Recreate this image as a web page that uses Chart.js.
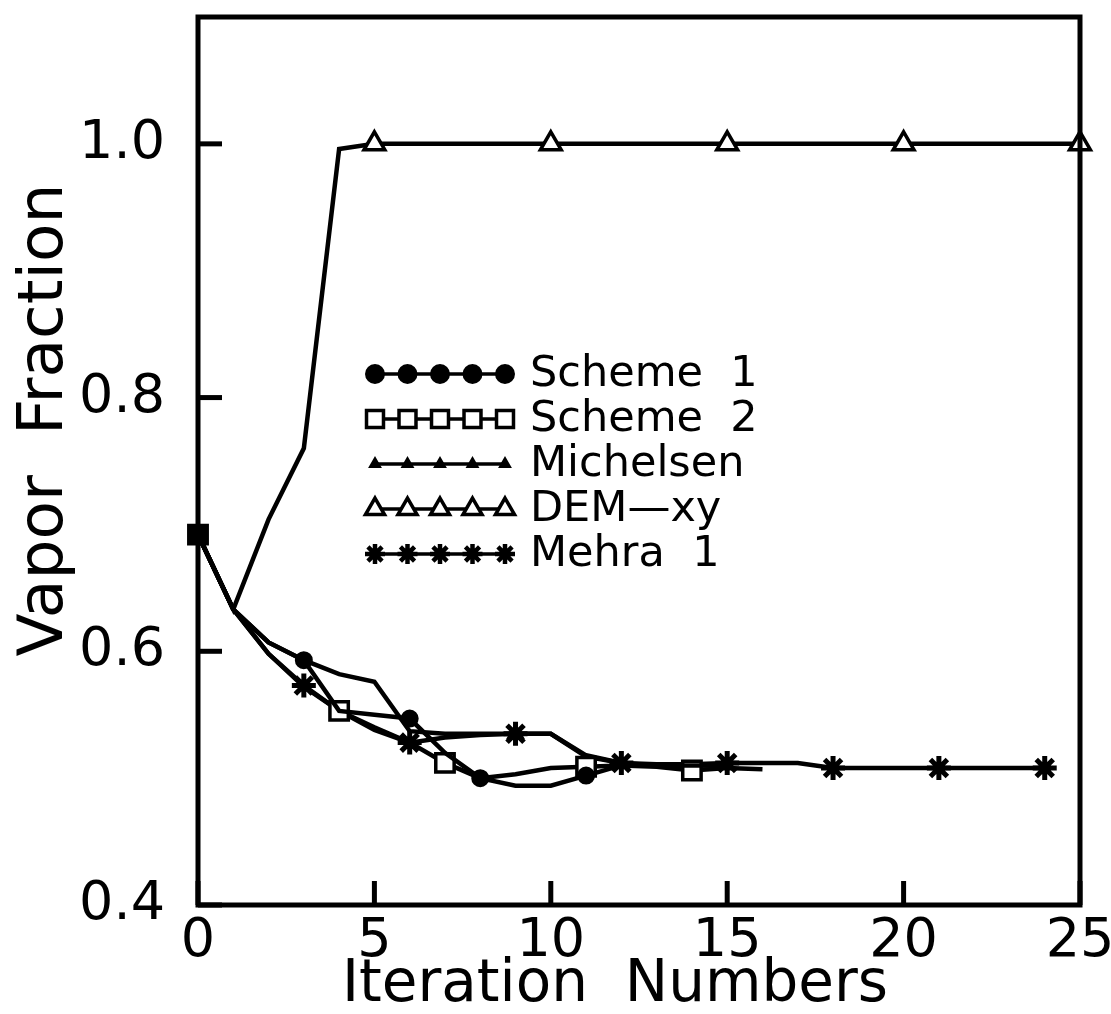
<!DOCTYPE html>
<html>
<head>
<meta charset="utf-8">
<script src="https://cdn.jsdelivr.net/npm/chart.js@4"></script>
<style>
  html, body { margin: 0; padding: 0; background: #fff; }
  #wrap { width: 1111px; height: 1014px; }
</style>
</head>
<body>
<div id="wrap"><canvas id="vaporChart" width="1111" height="1014"></canvas></div>
<script>
// values, index = iteration number
const seriesNames = ['Scheme  1', 'Scheme  2', 'Michelsen', 'DEM\u2014xy', 'Mehra  1'];

const scheme1 = [0.692, 0.633, 0.607, 0.593, 0.553, 0.550, 0.547, 0.520, 0.500, 0.494, 0.494, 0.502, 0.510, 0.510, 0.510, 0.510];
const scheme2 = [0.692, 0.633, 0.598, 0.572, 0.553, 0.538, 0.528, 0.512, 0.500, 0.503, 0.508, 0.509, 0.510, 0.509, 0.506, 0.508, 0.507];
const michelsen = [0.692, 0.633, 0.607, 0.593, 0.582, 0.576, 0.537, 0.535, 0.535, 0.535, 0.535, 0.517, 0.512, 0.510, 0.510, 0.510];
const demXy = [0.692, 0.633, 0.704, 0.760, 0.996, 1.0, 1.0, 1.0, 1.0, 1.0, 1.0, 1.0, 1.0, 1.0, 1.0, 1.0, 1.0, 1.0, 1.0, 1.0, 1.0, 1.0, 1.0, 1.0, 1.0, 1.0];
const mehra1 = [0.692, 0.633, 0.598, 0.573, 0.553, 0.540, 0.528, 0.532, 0.534, 0.535, 0.535, 0.518, 0.512, 0.511, 0.511, 0.512, 0.512, 0.512, 0.508, 0.508, 0.508, 0.508, 0.508, 0.508, 0.508];

// iterations where a symbol is printed on each curve
const scheme1Marks = [3, 6, 8, 11];
const scheme2Marks = [0, 4, 7, 11, 14];
const michelsenMarks = [9];
const demXyMarks = [5, 10, 15, 20, 25];
const mehra1Marks = [3, 6, 9, 12, 15, 18, 21, 24];

const xTicks = [0, 5, 10, 15, 20, 25];
const yTicks = [0.4, 0.6, 0.8, 1.0];
const xTitle = 'Iteration  Numbers';
const yTitle = 'Vapor  Fraction';

const FONT = "'DejaVu Sans', sans-serif";

function toPoints(arr) {
  return arr.map(function (v, i) { return { x: i, y: v }; });
}

function markRadius(marks, r) {
  return function (ctx) { return marks.includes(ctx.dataIndex) ? r : 0; };
}

const legendStyle = [
  { pointStyle: 'circle', radius: 9, fill: '#000', borderWidth: 2 },
  { pointStyle: 'rect', radius: 12, fill: '#fff', borderWidth: 3.5 },
  { pointStyle: 'triangle', radius: 6, fill: '#000', borderWidth: 2 },
  { pointStyle: 'triangle', radius: 11, fill: '#fff', borderWidth: 3.5 },
  { pointStyle: 'star', radius: 10, fill: '#000', borderWidth: 4.5 }
];

// box frame, inner tick stubs, axis titles and the in-plot legend
const framePlugin = {
  id: 'frame',
  afterDraw: function (chart) {
    const ctx = chart.ctx;
    const a = chart.chartArea;
    const xs = chart.scales.x, ys = chart.scales.y;
    ctx.save();
    ctx.strokeStyle = '#000';
    ctx.lineWidth = 5;
    ctx.strokeRect(a.left, a.top, a.right - a.left, a.bottom - a.top);

    ctx.lineWidth = 5;
    ctx.lineCap = 'butt';
    xTicks.forEach(function (v) {
      const px = a.left + (v - xs.min) / (xs.max - xs.min) * (a.right - a.left);
      ctx.beginPath();
      ctx.moveTo(px, a.bottom);
      ctx.lineTo(px, a.bottom - 24);
      ctx.stroke();
    });
    yTicks.forEach(function (v) {
      const py = a.bottom - (v - ys.min) / (ys.max - ys.min) * (a.bottom - a.top);
      ctx.beginPath();
      ctx.moveTo(a.left, py);
      ctx.lineTo(a.left + 24, py);
      ctx.stroke();
    });

    // axis titles
    ctx.fillStyle = '#000';
    ctx.textAlign = 'center';
    ctx.textBaseline = 'middle';
    ctx.font = '58px ' + FONT;
    ctx.fillText(xTitle, 615, 986);
    ctx.save();
    ctx.translate(46, 420);
    ctx.rotate(-Math.PI / 2);
    ctx.font = '63px ' + FONT;
    ctx.fillText(yTitle, 0, 0);
    ctx.restore();

    // legend
    chart.data.datasets.forEach(function (ds, i) {
      const st = legendStyle[i];
      const y = 374 + i * 45;
      ctx.lineWidth = 3.5;
      ctx.strokeStyle = '#000';
      ctx.beginPath();
      ctx.moveTo(375, y);
      ctx.lineTo(505, y);
      ctx.stroke();
      for (let k = 0; k < 5; k++) {
        ctx.fillStyle = st.fill;
        ctx.strokeStyle = '#000';
        ctx.lineWidth = st.borderWidth;
        Chart.helpers.drawPoint(ctx, { pointStyle: st.pointStyle, radius: st.radius, rotation: 0, borderWidth: st.borderWidth }, 375 + k * 32.5, y);
      }
      ctx.fillStyle = '#000';
      ctx.font = '43px ' + FONT;
      ctx.textAlign = 'left';
      ctx.textBaseline = 'middle';
      ctx.fillText(ds.label, 530, y + 1);
    });
    ctx.restore();
  }
};

const baseLine = {
  borderColor: '#000',
  borderWidth: 4.5,
  pointBorderColor: '#000',
  tension: 0,
  fill: false,
  clip: false
};

new Chart(document.getElementById('vaporChart').getContext('2d'), {
  type: 'line',
  data: {
    datasets: [
      Object.assign({}, baseLine, {
        label: seriesNames[0],
        data: toPoints(scheme1),
        pointStyle: 'circle',
        pointRadius: markRadius(scheme1Marks, 8),
        pointBackgroundColor: '#000',
        pointBorderWidth: 2
      }),
      Object.assign({}, baseLine, {
        label: seriesNames[1],
        data: toPoints(scheme2),
        pointStyle: 'rect',
        pointRadius: markRadius(scheme2Marks, 13),
        pointBackgroundColor: function (ctx) { return ctx.dataIndex === 0 ? '#000' : '#fff'; },
        pointBorderWidth: 3.5
      }),
      Object.assign({}, baseLine, {
        label: seriesNames[2],
        data: toPoints(michelsen),
        pointStyle: 'triangle',
        pointRadius: markRadius(michelsenMarks, 9),
        pointBackgroundColor: '#000',
        pointBorderWidth: 2
      }),
      Object.assign({}, baseLine, {
        label: seriesNames[3],
        data: toPoints(demXy),
        pointStyle: 'triangle',
        pointRadius: markRadius(demXyMarks, 12),
        pointBackgroundColor: '#fff',
        pointBorderWidth: 3.5
      }),
      Object.assign({}, baseLine, {
        label: seriesNames[4],
        data: toPoints(mehra1),
        pointStyle: 'star',
        pointRadius: markRadius(mehra1Marks, 12),
        pointBackgroundColor: '#000',
        pointBorderWidth: 5
      })
    ]
  },
  options: {
    responsive: false,
    animation: false,
    layout: { padding: { top: 10, right: 31, left: 10, bottom: 0 } },
    plugins: {
      legend: { display: false },
      tooltip: { enabled: false }
    },
    scales: {
      x: {
        type: 'linear',
        min: 0,
        max: 25,
        afterBuildTicks: function (scale) {
          scale.ticks = xTicks.map(function (v) { return { value: v }; });
        },
        afterFit: function (scale) {
          scale.height = 109;
          scale.paddingLeft = 0;
          scale.paddingRight = 0;
        },
        grid: { display: false, drawTicks: false },
        border: { display: false },
        ticks: {
          color: '#000',
          padding: 10,
          maxRotation: 0,
          font: { family: FONT, size: 54, lineHeight: 1 }
        },
        title: { display: false }
      },
      y: {
        type: 'linear',
        min: 0.4,
        max: 1.1,
        afterBuildTicks: function (scale) {
          scale.ticks = yTicks.map(function (v) { return { value: v }; });
        },
        afterFit: function (scale) {
          scale.width = 188;
          scale.paddingTop = 0;
          scale.paddingBottom = 0;
        },
        grid: { display: false, drawTicks: false },
        border: { display: false },
        ticks: {
          color: '#000',
          padding: 33,
          font: { family: FONT, size: 54, lineHeight: 1 },
          callback: function (v) { return v.toFixed(1); }
        },
        title: { display: false }
      }
    }
  },
  plugins: [framePlugin]
});
</script>
</body>
</html>
